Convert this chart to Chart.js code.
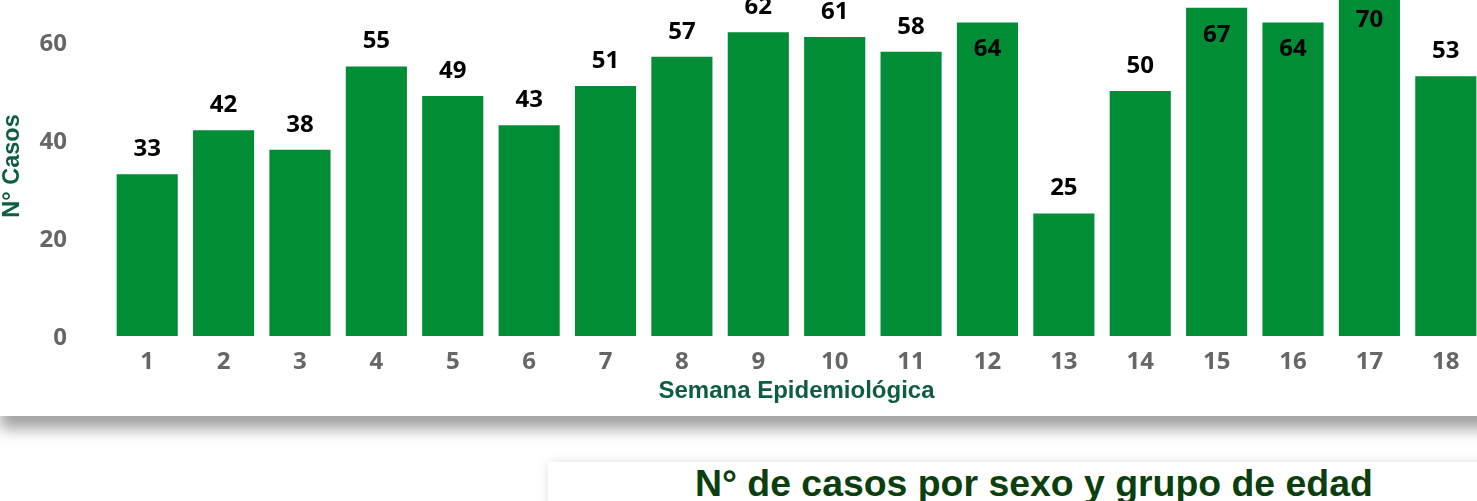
<!DOCTYPE html>
<html>
<head>
    <meta charset="UTF-8">
    <title>Casos por semana epidemiológica</title>
    <script src="https://cdn.jsdelivr.net/npm/chart.js@4.4.0/dist/chart.umd.min.js"></script>
    <style>
        html, body {
            margin: 0;
            padding: 0;
            width: 1477px;
            height: 501px;
            overflow: hidden;
            background: #fff;
        }

        .card {
            position: absolute;
            background: #fff;
        }

        .card_top {
            left: 0;
            top: -56px;
            width: 1500px;
            height: 472px;
            box-shadow: 0 13px 14px rgba(0, 0, 0, 0.36);
        }

        .card_top canvas {
            position: absolute;
            left: 0;
            top: 0;
        }

        .card_bottom {
            left: 548px;
            top: 462px;
            width: 980px;
            height: 120px;
            box-shadow: 0 0 10px rgba(0, 0, 0, 0.12);
        }

        .card_bottom h2 {
            margin: 0;
            position: absolute;
            left: 147px;
            top: 0px;
            font-family: "Liberation Sans", Arial, sans-serif;
            font-weight: bold;
            font-size: 37.4px;
            color: #0b3f0d;
            white-space: nowrap;
        }
    </style>
</head>

<body>
    <div class="card card_top">
        <canvas id="weekChart" width="1500" height="472"></canvas>
    </div>
    <div class="card card_bottom">
        <h2>N° de casos por sexo y grupo de edad</h2>
    </div>

    <script type="text/javascript">
        // semanas epidemiológicas y casos
        let weeks = ['1', '2', '3', '4', '5', '6', '7', '8', '9', '10', '11', '12', '13', '14', '15', '16', '17', '18'];
        let cases = [33, 42, 38, 55, 49, 43, 51, 57, 62, 61, 58, 64, 25, 50, 67, 64, 70, 53];
        let yTicks = [0, 20, 40, 60, 80];

        let barColor = '#018c36';
        let tickColor = '#666666';
        let titleColor = '#0d5c44';

        // etiquetas de datos: fuera de la barra, dentro si no caben arriba
        let valueLabels = {
            id: 'valueLabels',
            afterDatasetsDraw(chart) {
                let ctx = chart.ctx;
                let meta = chart.getDatasetMeta(0);
                ctx.save();
                ctx.font = 'bold 24px "Open Sans", sans-serif';
                ctx.fillStyle = '#000';
                ctx.textAlign = 'center';
                ctx.textBaseline = 'middle';
                meta.data.forEach((bar, i) => {
                    let v = cases[i];
                    let y = v >= 63 ? bar.y + 27 : bar.y - 25;
                    ctx.fillText(String(v), bar.x, y);
                });
                ctx.restore();
            }
        };

        let yTitle = {
            id: 'yTitle',
            afterDraw(chart) {
                let ctx = chart.ctx;
                ctx.save();
                ctx.translate(13, chart.chartArea.bottom - 170);
                ctx.rotate(-Math.PI / 2);
                ctx.font = 'bold 23.5px "Liberation Sans", Arial, sans-serif';
                ctx.fillStyle = titleColor;
                ctx.textAlign = 'center';
                ctx.textBaseline = 'middle';
                ctx.fillText('N° Casos', 0, 0);
                ctx.restore();
            }
        };

        let ctx = document.getElementById('weekChart').getContext('2d');
        let weekChart = new Chart(ctx, {
            type: 'bar',
            data: {
                labels: weeks,
                datasets: [{
                    data: cases,
                    backgroundColor: barColor,
                    barPercentage: 1,
                    categoryPercentage: 0.8
                }]
            },
            options: {
                responsive: false,
                animation: false,
                layout: {
                    padding: { top: 0, right: 16, left: 0, bottom: 0 }
                },
                plugins: {
                    legend: { display: false },
                    tooltip: { enabled: false }
                },
                scales: {
                    x: {
                        grid: { display: false },
                        border: { display: false },
                        ticks: {
                            color: tickColor,
                            padding: 4,
                            font: { family: '"Open Sans", sans-serif', size: 24, weight: 'bold' }
                        },
                        title: {
                            display: true,
                            text: 'Semana Epidemiológica',
                            color: titleColor,
                            padding: { top: 0, bottom: 10 },
                            font: { family: '"Liberation Sans", Arial, sans-serif', size: 24, weight: 'bold' }
                        },
                        afterFit: (scale) => {
                            scale.height = 80;
                            scale.paddingLeft = 0;
                            scale.paddingRight = 0;
                        }
                    },
                    y: {
                        min: 0,
                        max: 80,
                        afterBuildTicks: (scale) => {
                            scale.ticks = yTicks.map(v => ({ value: v }));
                        },
                        grid: { display: false },
                        border: { display: false },
                        ticks: {
                            color: tickColor,
                            padding: 34,
                            labelOffset: 2,
                            font: { family: '"Open Sans", sans-serif', size: 24, weight: 'bold' }
                        },
                        afterFit: (scale) => {
                            scale.width = 109;
                            scale.paddingTop = 0;
                            scale.paddingBottom = 0;
                        }
                    }
                }
            },
            plugins: [valueLabels, yTitle]
        });
    </script>
</body>

</html>
